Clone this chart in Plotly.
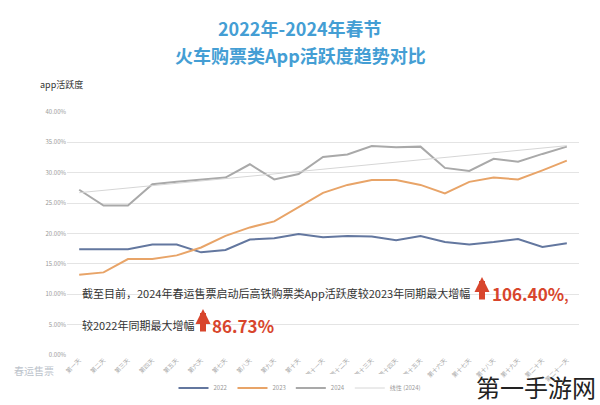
import numpy as np
import plotly.graph_objects as go

FONT = "Noto Sans CJK SC"

days = ["第一天", "第二天", "第三天", "第四天", "第五天", "第六天", "第七天",
        "第八天", "第九天", "第十天", "第十一天", "第十二天", "第十三天", "第十四天",
        "第十五天", "第十六天", "第十七天", "第十八天", "第十九天", "第二十天", "第二十一天"]

y2022 = [17.4, 17.4, 17.4, 18.2, 18.2, 16.9, 17.3, 19.0, 19.2, 19.9, 19.4,
         19.6, 19.5, 18.9, 19.6, 18.6, 18.2, 18.6, 19.1, 17.8, 18.4]
y2023 = [13.2, 13.6, 15.8, 15.8, 16.4, 17.7, 19.6, 21.0, 22.0, 24.4, 26.7,
         28.0, 28.8, 28.8, 28.0, 26.6, 28.5, 29.2, 28.9, 30.4, 32.0]
y2024 = [27.2, 24.6, 24.6, 28.1, 28.5, 28.9, 29.2, 31.4, 28.9, 29.8, 32.6,
         33.0, 34.4, 34.2, 34.3, 30.8, 30.3, 32.3, 31.8, 33.1, 34.3]

series_names = ["2022", "2023", "2024"]
series_colors = ["#63779f", "#e8a468", "#a9a9a9"]

# excel style linear trendline of the 2024 series
idx = np.arange(len(y2024))
slope, icpt = np.polyfit(idx, y2024, 1)
trend = slope * idx + icpt

fig = go.Figure()
for name, vals, col in zip(series_names, [y2022, y2023, y2024], series_colors):
    fig.add_trace(go.Scatter(x=days, y=vals, mode="lines", name=name,
                             line=dict(color=col, width=2)))
fig.add_trace(go.Scatter(x=days, y=trend, mode="lines", name="线性 (2024)",
                         line=dict(color="#d6d6d6", width=1)))

RED = "#d8452c"
TITLE_BLUE = "#449ed4"


# pixel -> paper coords (plot area is x 67..579, y 112..355)
def px(x):
    return (x - 67) / 512


def py(y):
    return (355 - y) / 243


def note(x, y, text, size, color, anchor="left"):
    return dict(x=px(x), y=py(y), xref="paper", yref="paper",
                xanchor=anchor, yanchor="middle", text=text, showarrow=False,
                font=dict(size=size, color=color))


annos = [
    note(300, 28, "<b>2022年-2024年春节</b>", 18, TITLE_BLUE, anchor="center"),
    note(300, 55, "<b>火车购票类App活跃度趋势对比</b>", 18, TITLE_BLUE, anchor="center"),
    note(80, 293, "截至目前，2024年春运售票启动后高铁购票类App活跃度较2023年同期最大增幅", 11, "#333333"),
    note(490, 293, "<b>106.40%</b>,", 17, RED),
    note(80, 325, "较2022年同期最大增幅", 11, "#333333"),
    note(210, 325, "<b>86.73%</b>", 17, RED),
    note(38, 84, "app活跃度", 9, "#333333"),
    note(12, 370, "春运售票", 10, "#bcc3cb"),
    note(598, 386, "第一手游网", 24, "#222222", anchor="right"),
]

for ax_x, head_y in [(482, 277), (203, 309)]:
    annos.append(dict(x=px(ax_x), y=py(head_y), xref="paper", yref="paper",
                      text="", showarrow=True, ax=0, ay=24, arrowhead=2,
                      arrowsize=0.5, arrowwidth=6, arrowcolor=RED))

fig.update_layout(
    width=600,
    height=405,
    margin=dict(l=67, r=21, t=112, b=50, autoexpand=False),
    plot_bgcolor="#ffffff",
    paper_bgcolor="#ffffff",
    font=dict(family=FONT),
    showlegend=True,
    legend=dict(
        orientation="h", xref="container", yref="container",
        x=0.5, xanchor="center", y=1 - 388 / 405, yanchor="middle",
        font=dict(size=6, color="#999999"), itemwidth=30,
    ),
    annotations=annos,
    xaxis=dict(
        type="category",
        range=[-0.5, 20.5],
        tickangle=-45,
        tickfont=dict(size=6, color="#aaaaaa"),
        showgrid=False,
        showline=False,
        zeroline=False,
    ),
    yaxis=dict(
        range=[0, 40],
        dtick=5,
        tickformat=".2f",
        ticksuffix="%",
        tickfont=dict(size=6, color="#999999"),
        gridcolor="#e4e4e4",
        gridwidth=1,
        zeroline=False,
        showline=False,
    ),
)

fig.write_html("out.html", config={"displayModeBar": False},
               post_script="document.body.style.margin = '0';")
